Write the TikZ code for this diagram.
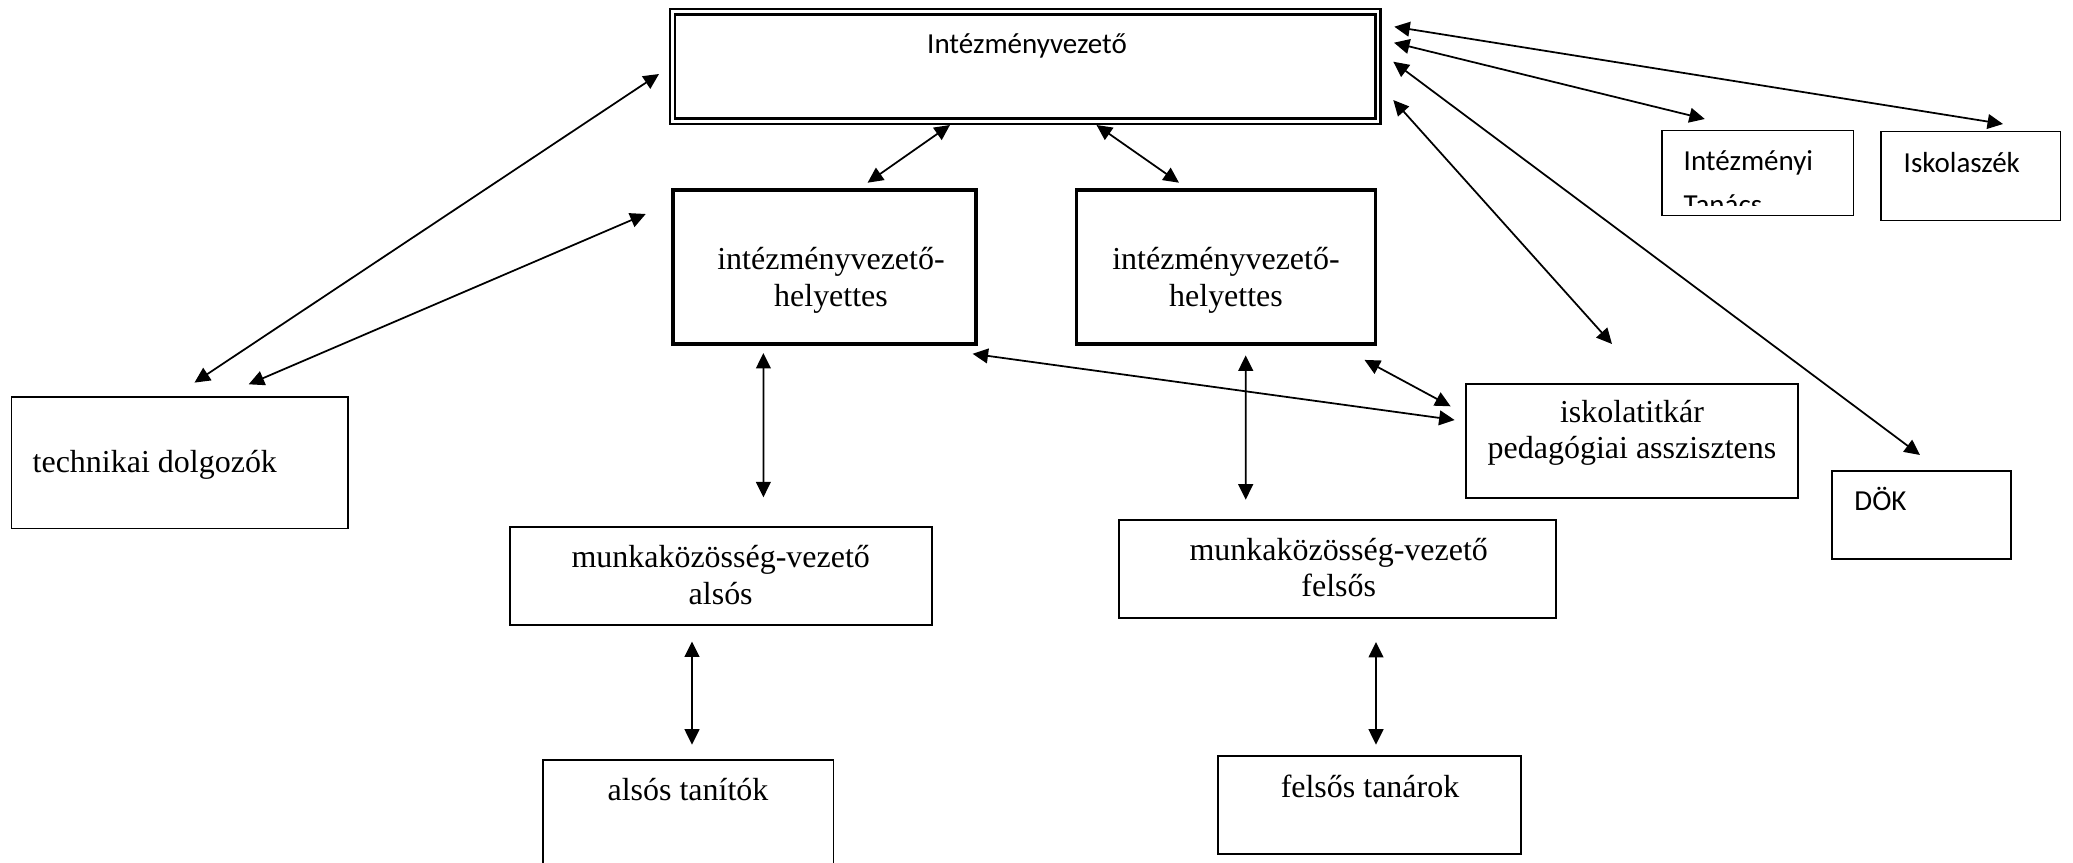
\documentclass[tikz,border=0pt]{standalone}
\usepackage{fontspec}
\setmainfont{Liberation Serif}
\newfontfamily\calibri{Carlito}
\usetikzlibrary{arrows.meta,calc}

\begin{document}
\begin{tikzpicture}[x=0.1mm,y=-0.1mm,
        box/.style={draw, line width=0.55pt, inner sep=0pt, outer sep=0pt, anchor=north west},
        boldbox/.style={box, line width=1.1pt},
        serif/.style={font=\fontsize{9.1}{10.3}\selectfont, inner sep=0pt, align=center, anchor=base},
        sans/.style={font=\calibri\fontsize{8.25}{12.7}\selectfont, inner sep=0pt, align=left, anchor=base west},
        link/.style={{Triangle[length=4.4pt,width=4.2pt]}-{Triangle[length=4.4pt,width=4.2pt]}, line width=0.5pt}]
        \useasboundingbox (0,0) rectangle (2073,862);

        % dobozok
        \node[box, double, double distance=0.8pt, line width=0.7pt, minimum width=70.55mm, minimum height=10.94mm] (ivz) at (672.5,11.8) {};
        \node[boldbox, minimum width=30.36mm, minimum height=15.4mm] (ihl) at (672.7,189.7) {};
        \node[boldbox, minimum width=29.9mm, minimum height=15.4mm] (ihr) at (1076.5,189.7) {};
        \node[box, minimum width=19.15mm, minimum height=8.5mm] (itan) at (1662,130.5) {};
        \node[box, minimum width=17.95mm, minimum height=8.9mm] (isz) at (1881,131.5) {};
        \node[box, minimum width=33.65mm, minimum height=13.17mm] (tech) at (11.5,396.8) {};
        \node[box, minimum width=33.2mm, minimum height=11.47mm] (titk) at (1466,383.6) {};
        \node[box, minimum width=17.94mm, minimum height=8.88mm] (dok) at (1831.6,470.6) {};
        \node[box, minimum width=42.22mm, minimum height=9.84mm] (mkva) at (510.2,526.8) {};
        \node[box, minimum width=43.75mm, minimum height=9.77mm] (mkvf) at (1118.8,520) {};
        \node[box, minimum width=29.01mm, minimum height=12mm] (alt) at (543.4,760.3) {};
        \node[box, minimum width=30.32mm, minimum height=9.84mm] (fet) at (1218,755.9) {};

        % feliratok (base = utolso sor alapvonala)
        \node[sans, anchor=base] (ivz-t) at (1027,53) {Intézményvezető};
        \node[serif] (ihl-t) at (831,306) {intézményvezető-\\helyettes};
        \node[serif] (ihr-t) at (1226,306) {intézményvezető-\\helyettes};
        \begin{scope}
            \clip (itan.north west) rectangle (1853,205);
            \node[sans] (itan-t) at (1683,214.7) {Intézményi\\Tanács};
        \end{scope}
        \node[sans] (isz-t) at (1903,172) {Iskolaszék};
        \node[serif, anchor=base west] (tech-t) at (32,472.5) {technikai dolgozók};
        \node[serif] (titk-t) at (1632,458.7) {iskolatitkár\\pedagógiai asszisztens};
        \node[sans] (dok-t) at (1853.7,510.5) {DÖK};
        \node[serif] (mkva-t) at (720.7,604) {munkaközösség-vezető\\alsós};
        \node[serif] (mkvf-t) at (1338.7,596.4) {munkaközösség-vezető\\felsős};
        \node[serif] (alt-t) at (688,800) {alsós tanítók};
        \node[serif] (fet-t) at (1370,797.6) {felsős tanárok};

        % nyilak
        \draw[link] ($(ivz.west)+(-13.5,7.5)$) -- ($(tech.north)+(14.75,-14.2)$);
        \draw[link] ($(ihl.north west)+(-27,24.3)$) -- ($(tech.north)+(68.95,-12.5)$);
        \draw[link] ($(ivz.south)+(-75.25,3.8)$) -- ($(ihl.north)+(43.1,-7)$);
        \draw[link] ($(ivz.south)+(71.25,3.8)$) -- ($(ihr.north)+(-47,-7)$);
        \draw[link] ($(ivz.north east)+(16.3,14.9)$) -- ($(isz.north)+(32.25,-7.5)$);
        \draw[link] ($(ivz.north east)+(16,30.9)$) -- ($(itan.north)+(-52.95,-11.5)$);
        \draw[link] ($(ivz.north east)+(15.3,49.9)$) -- ($(dok.north)+(-1.3,-15.6)$);
        \draw[link] ($(ivz.north east)+(15.3,88.2)$) -- ($(titk.north)+(-20,-39.6)$);
        \draw[link] ($(ihl.south east)+(-3.7,10.1)$) -- ($(titk.west)+(-11.4,-20.95)$);
        \draw[link] ($(ihr.south east)+(-11,16.2)$) -- ($(titk.west)+(-15.4,-34.65)$);
        \draw[link] ($(ihl.south)+(-61.1,9.3)$) -- ($(mkva.north)+(42.1,-29.5)$);
        \draw[link] ($(ihr.south)+(19.7,11.7)$) -- ($(mkvf.north)+(-91.85,-20.3)$);
        \draw[link] ($(mkva.south)+(-29.3,16.3)$) -- ($(alt.north)+(3.55,-15.6)$);
        \draw[link] ($(mkvf.south)+(38.45,24.3)$) -- ($(fet.north)+(6.4,-11.2)$);
\end{tikzpicture}
\end{document}
